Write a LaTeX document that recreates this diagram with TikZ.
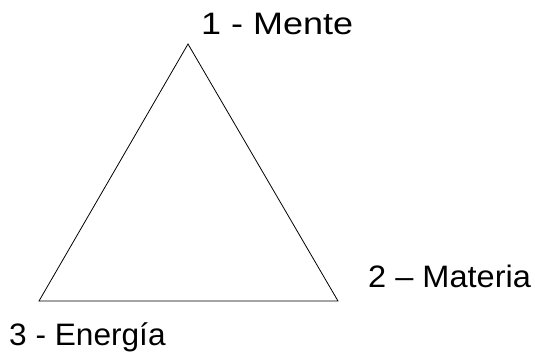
\documentclass[tikz,border=0pt]{standalone}
\usepackage{graphicx}
\usepackage{fontspec}
\setmainfont{Liberation Sans}
\begin{document}
\begin{tikzpicture}[x=1pt,y=-1pt,
  lbl/.style={inner sep=0pt,anchor=base west,font=\fontsize{31}{36}\selectfont},
  edge/.style={draw=black,line width=0.8pt}]
\useasboundingbox (0,0) rectangle (535,360);
\coordinate (top) at (188,44);
\coordinate (bl) at (39,301);
\coordinate (br) at (338,301);
\draw[edge] (top) -- (br) -- (bl) -- cycle;
\node[lbl] (m1) at (201,34) {\scalebox{1.16}[1]{1 - Mente}};
\node[lbl] (m2) at (368,287) {\scalebox{1.05}[1]{2 – Materia}};
\node[lbl] (m3) at (9,345) {\scalebox{1.02}[1]{3 - Energía}};
\end{tikzpicture}
\end{document}
